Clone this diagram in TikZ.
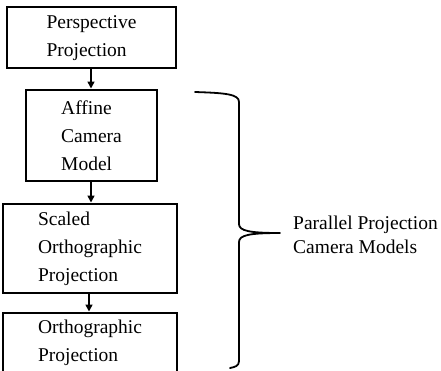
\documentclass[tikz,border=0pt]{standalone}
\usepackage{fontspec}
\setmainfont{Liberation Serif}
\usetikzlibrary{arrows.meta}
\begin{document}
\begin{tikzpicture}[x=1pt,y=-1pt,
  boxnode/.style={draw,line width=2pt,align=left,inner sep=0pt,
    font=\fontsize{19.5}{28}\selectfont},
  flowarrow/.style={line width=1.6pt,-{Triangle[length=7pt,width=7pt]},shorten >=0.5pt},
  bracestyle/.style={line width=1.8pt,line cap=round,line join=round}]
\useasboundingbox (0,0) rectangle (441,370);
\begin{scope}
\clip (0,0) rectangle (441,370);
\node[boxnode,minimum width=169pt,minimum height=61pt] (persp) at (91.5,37.5)
  {Perspective\\Projection\\[-25pt]\rule{0pt}{0pt}};
\node[boxnode,minimum width=131pt,minimum height=91pt] (affine) at (91.5,135.5)
  {Affine\\Camera\\Model};
\node[boxnode,minimum width=174pt,minimum height=89pt] (scaled) at (90,248.5)
  {Scaled\\Orthographic\\Projection};
\node[boxnode,minimum width=174pt,minimum height=60pt] (ortho) at (90,343)
  {Orthographic\\Projection};
\draw[flowarrow] (persp.south -| 91,0) -- (affine.north -| 91,0);
\draw[flowarrow] (affine.south -| 91,0) -- (scaled.north -| 91,0);
\draw[flowarrow] (scaled.south -| 89,0) -- (ortho.north -| 89,0);
\end{scope}
\draw[bracestyle] (195,92) .. controls (225,93) and (239,94) .. (239,102)
  -- (239,224) .. controls (239,231) and (250,233) .. (280,233)
  .. controls (250,233) and (239,235) .. (239,242)
  -- (239,361) .. controls (239,366) and (235,367) .. (230,368);
\node[anchor=west,align=left,inner sep=0pt,font=\fontsize{19.5}{24}\selectfont] (label)
  at (293,235) {Parallel Projection\\Camera Models};
\end{tikzpicture}
\end{document}
